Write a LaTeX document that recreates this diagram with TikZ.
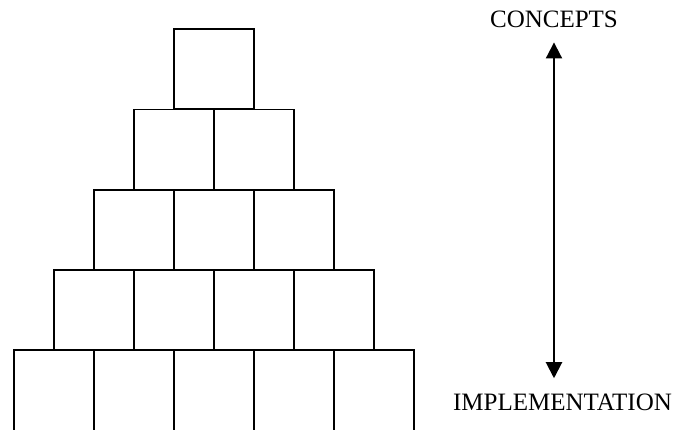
\documentclass[tikz,border=0pt]{standalone}
\usepackage{fontspec}
\setmainfont{Liberation Serif}
\usetikzlibrary{arrows.meta}
\begin{document}
\begin{tikzpicture}[x=1pt,y=1pt,
  brick/.style={draw=black,line width=1.5pt,minimum width=80pt,minimum height=80pt,inner sep=0pt},
  basebrick/.style={brick,minimum height=100pt},
  label/.style={font=\fontsize{25}{25}\selectfont,inner sep=0pt,anchor=base},
  bothway/.style={line width=2pt,{Triangle[length=16pt,width=16pt]}-{Triangle[length=16pt,width=16pt]}}]
\useasboundingbox (0,0) rectangle (697,429);
\clip (0,0) rectangle (697,429);
\fill[white] (0,0) rectangle (697,429);
% row 5 (base, cut off by the lower edge)
\foreach \x [count=\i] in {54,134,214,294,374} \node[basebrick] (e\i) at (\x,29) {};
% row 4
\foreach \x [count=\i] in {94,174,254,334} \node[brick] (d\i) at (\x,119) {};
% row 3
\foreach \x [count=\i] in {134,214,294} \node[brick] (c\i) at (\x,199) {};
% row 2
\foreach \x [count=\i] in {174,254} \node[brick] (b\i) at (\x,279.5) {};
% row 1
\node[brick] (a1) at (214,360) {};
% labels
\node[label] (concepts) at (554,401) {CONCEPTS};
\node[label] (impl) at (562.5,19) {IMPLEMENTATION};
\draw[bothway,shorten <=14pt,shorten >=15pt] (concepts.south) -- (concepts.south |- impl.north);
\end{tikzpicture}
\end{document}
